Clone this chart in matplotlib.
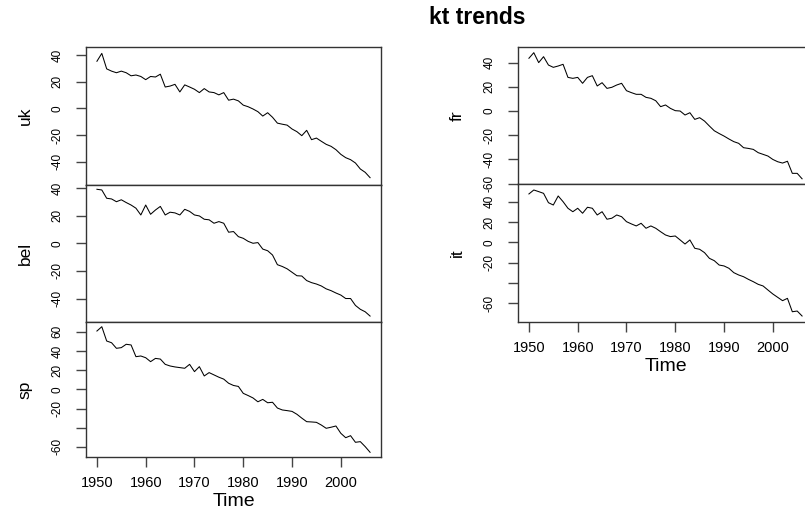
import matplotlib
matplotlib.use("Agg")
import matplotlib.pyplot as plt

plt.rcParams['font.family'] = ['Liberation Sans', 'DejaVu Sans']
plt.rcParams['axes.unicode_minus'] = False

# years of the series (1950 - 2006)
years = list(range(1950, 2007))

# kt values
uk = [35.3, 41.2, 29.6, 27.9, 26.7, 27.9, 26.7, 24.4, 25.0, 23.9,
      21.5, 23.9, 23.5, 25.6, 16.0, 16.7, 18.0, 12.3, 17.6, 16.0,
      14.3, 11.8, 14.8, 12.3, 11.8, 10.1, 11.8, 6.1, 6.9, 5.6,
      2.4, 1.2, -0.5, -2.5, -5.8, -3.3, -6.7, -11.1, -11.9, -12.6,
      -15.5, -17.5, -20.5, -16.5, -23.5, -22.3, -24.7, -27.0, -28.5, -31.0,
      -34.5, -37.0, -38.5, -41.0, -45.5, -48.0, -52.0]
bel = [39.1, 38.6, 32.6, 32.1, 30.1, 31.5, 29.5, 27.7, 25.4, 20.5,
       27.7, 21.0, 24.1, 26.7, 20.5, 22.5, 22.0, 20.5, 24.6, 23.1,
       20.5, 19.8, 17.4, 17.0, 14.5, 15.7, 14.5, 8.0, 8.5, 4.8,
       3.6, 1.4, 0.0, 0.5, -4.2, -5.4, -8.5, -15.5, -16.8, -18.5,
       -21.0, -23.5, -23.7, -27.0, -28.5, -29.5, -30.9, -33.0, -34.3, -36.0,
       -37.5, -40.0, -40.0, -45.0, -47.8, -49.6, -52.7]
sp = [60.7, 65.2, 50.3, 48.5, 42.7, 43.4, 46.9, 46.2, 34.0, 34.7,
      32.9, 28.8, 32.2, 31.5, 26.0, 24.3, 23.3, 22.6, 21.9, 26.0,
      18.4, 23.6, 13.9, 17.4, 15.0, 12.6, 10.6, 6.3, 4.0, 3.0,
      -4.2, -6.5, -9.0, -13.0, -10.5, -14.0, -13.5, -19.5, -21.5, -22.2,
      -23.0, -26.0, -30.0, -33.7, -34.0, -34.4, -37.2, -40.6, -39.5, -38.2,
      -45.8, -50.4, -48.3, -55.2, -54.5, -59.7, -65.6]
fr = [43.6, 48.2, 40.0, 44.9, 38.0, 36.1, 37.2, 38.6, 27.8, 27.0,
      27.8, 22.9, 27.8, 29.2, 20.7, 23.4, 18.7, 19.6, 21.5, 22.9,
      16.8, 15.2, 13.8, 13.8, 11.3, 10.5, 8.5, 3.6, 5.0, 2.2,
      0.3, 0.0, -3.3, -1.4, -6.9, -5.5, -8.3, -12.4, -16.3, -18.6,
      -20.7, -23.1, -25.3, -26.7, -30.3, -30.9, -31.7, -34.4, -35.8, -37.2,
      -40.0, -41.9, -43.0, -41.5, -51.5, -51.5, -56.0]
it = [47.6, 51.5, 49.9, 48.2, 39.0, 36.7, 45.6, 40.0, 33.5, 30.1,
      33.5, 28.6, 34.5, 33.5, 26.9, 30.1, 22.7, 23.7, 26.9, 25.2,
      20.3, 18.1, 16.1, 18.7, 13.8, 16.1, 13.8, 10.4, 7.2, 5.6,
      6.2, 2.3, -1.7, 2.3, -5.9, -6.9, -10.2, -15.8, -18.1, -22.4,
      -23.3, -25.6, -29.9, -32.2, -33.9, -36.5, -38.8, -41.4, -43.0, -47.0,
      -50.9, -54.2, -57.5, -55.2, -68.4, -67.7, -72.6]

xticks = [1950, 1960, 1970, 1980, 1990, 2000]

W, H = 805, 515
fig = plt.figure(figsize=(W / 100, H / 100), dpi=100)


def panel(x0, x1, y0, y1):
    # pixel box -> figure coords
    return fig.add_axes([x0 / W, 1 - y1 / H, (x1 - x0) / W, (y1 - y0) / H])


# (name, values, ylim, ticks, tick labels, pixel box, bottom panel?)
panels = [
    ("uk", uk, (-57.5, 46), [40, 20, 0, -20, -40], ["40", "20", "0", "-20", "-40"],
     (86, 381, 47, 185), False),
    ("bel", bel, (-57, 42.2), [40, 20, 0, -20, -40], ["40", "20", "0", "-20", "-40"],
     (86, 381, 185, 322), False),
    ("sp", sp, (-70.5, 70.1), [60, 40, 20, 0, -20, -40, -60],
     ["60", "40", "20", "0", "-20", "", "-60"], (86, 381, 322, 457), True),
    ("fr", fr, (-60.3, 52.9), [40, 20, 0, -20, -40, -60],
     ["40", "20", "0", "-20", "-40", "-60"], (518, 813, 47, 184), False),
    ("it", it, (-78.5, 57.4), [40, 20, 0, -20, -40, -60],
     ["40", "20", "0", "-20", "", "-60"], (518, 813, 184, 322), True),
]

for name, vals, ylim, yt, ytl, box, bottom in panels:
    ax = panel(*box)
    ax.plot(years, vals, color="black", lw=0.75)
    ax.set_xlim(1947.76, 2008.24)
    ax.set_ylim(*ylim)
    ax.set_yticks(yt)
    ax.set_yticklabels(ytl)
    ax.tick_params(axis="y", labelrotation=90, length=7, width=1, pad=9,
                   labelsize=8.5, color="#444444")
    for lbl in ax.get_yticklabels():
        lbl.set_va("center")
    for s in ax.spines.values():
        s.set_color("#333333")
        s.set_linewidth(1)
    ax.set_ylabel(name, fontsize=12.5)
    ax.yaxis.set_label_coords(-0.18, 0.5)
    if bottom:
        ax.set_xticks(xticks)
        ax.tick_params(axis="x", length=7, width=1, pad=7, labelsize=10.5,
                       color="#444444")
        ax.set_xlabel("Time", fontsize=14, labelpad=2)
    else:
        ax.tick_params(axis="x", bottom=False, labelbottom=False)

fig.text(477 / W, 1 - 17 / H, "kt trends", fontsize=16.5, fontweight="bold",
         ha="center", va="center")

fig.savefig("out.png", dpi=100)
